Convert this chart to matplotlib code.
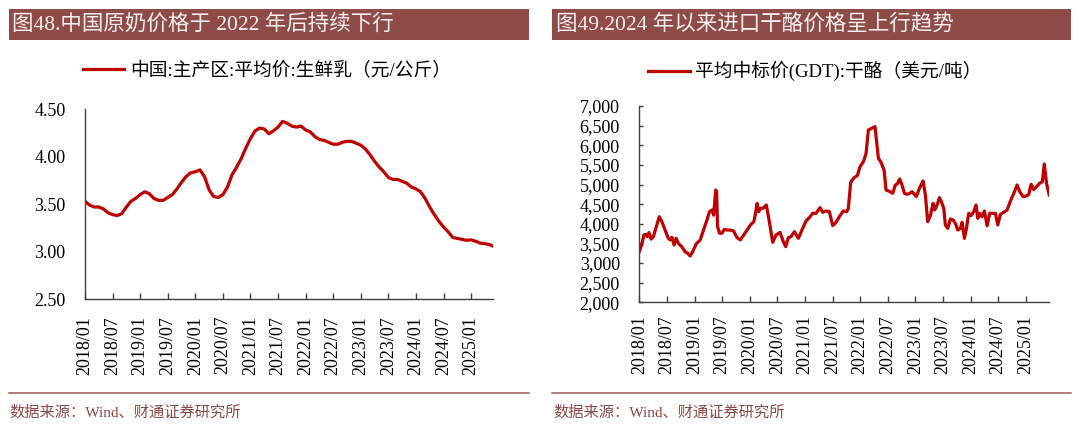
import matplotlib
matplotlib.use("Agg")
import matplotlib.pyplot as plt
from matplotlib.patches import Rectangle
from matplotlib.lines import Line2D
from matplotlib.ticker import FuncFormatter, FixedLocator

plt.rcParams['font.family'] = ['Liberation Serif', 'Noto Sans CJK SC']

# x 轴: 从 2018/01 起的月数
tick_months = [0, 6, 12, 18, 24, 30, 36, 42, 48, 54, 60, 66, 72, 78, 84]
tick_labels = ["2018/01", "2018/07", "2019/01", "2019/07", "2020/01", "2020/07",
               "2021/01", "2021/07", "2022/01", "2022/07", "2023/01", "2023/07",
               "2024/01", "2024/07", "2025/01"]

# 图48 生鲜乳平均价 (元/公斤), 月度读数
milk_month = list(range(89)) + [88.7]
milk_price = [3.53, 3.49, 3.47, 3.47, 3.45, 3.41, 3.39, 3.38, 3.40, 3.47, 3.53, 3.56,
              3.60, 3.63, 3.61, 3.56, 3.54, 3.54, 3.57, 3.60, 3.66, 3.73, 3.79, 3.83,
              3.84, 3.86, 3.79, 3.65, 3.58, 3.57, 3.60, 3.68, 3.81, 3.89, 3.98, 4.09,
              4.19, 4.27, 4.30, 4.29, 4.24, 4.27, 4.31, 4.37, 4.35, 4.32, 4.31, 4.32,
              4.28, 4.26, 4.21, 4.18, 4.17, 4.15, 4.13, 4.13, 4.15, 4.16, 4.16, 4.14,
              4.12, 4.08, 4.02, 3.95, 3.89, 3.84, 3.78, 3.76, 3.76, 3.74, 3.72, 3.68,
              3.66, 3.63, 3.56, 3.47, 3.39, 3.32, 3.26, 3.21, 3.15, 3.14, 3.13, 3.12,
              3.125, 3.11, 3.09, 3.085, 3.075, 3.06]

# 图49 GDT 干酪平均中标价 (美元/吨), 拍卖读数
gdt_month = [0.0, 0.5, 1.0, 1.45, 1.75, 2.1, 2.55, 3.05, 3.6, 4.35, 4.9, 5.6, 6.3, 6.7,
             7.1, 7.55, 8.0, 8.5, 9.25, 9.95, 10.5, 11.05, 11.6, 12.35, 13.25, 13.95,
             14.7, 15.25, 15.8, 16.15, 16.35, 16.6, 16.8, 17.0, 17.45, 17.95, 18.5,
             19.05, 19.8, 20.5, 21.25, 21.95, 22.7, 23.4, 24.15, 24.9, 25.25, 25.6,
             25.95, 26.3, 26.9, 27.6, 28.26, 28.99, 29.71, 30.58, 31.3, 31.81, 32.39,
             32.97, 33.7, 34.57, 35.51, 36.23, 36.96, 37.68, 38.41, 39.28, 39.86,
             40.58, 41.3, 42.03, 42.75, 43.62, 44.35, 45.07, 45.43, 45.94, 46.67,
             47.39, 47.97, 48.7, 49.28, 49.78, 50.51, 51.23, 51.96, 52.46, 53.19,
             53.62, 54.49, 55.07, 55.65, 56.16, 56.59, 57.1, 57.61, 58.19, 58.77,
             59.28, 59.78, 60.22, 60.72, 61.23, 61.67, 62.17, 62.68, 63.26, 63.84,
             64.2, 64.71, 65.22, 65.65, 66.16, 66.52, 67.03, 67.61, 68.19, 68.7,
             69.2, 69.78, 70.14, 70.65, 71.09, 71.59, 72.1, 72.68, 73.19, 73.55,
             73.99, 74.49, 75.0, 75.58, 76.16, 76.74, 77.39, 77.9, 78.48, 79.2,
             79.93, 80.65, 81.38, 82.1, 82.68, 83.41, 84.13, 84.64, 85.14, 85.72,
             86.45, 87.0, 87.6, 88.0, 88.5, 89.07]
gdt_price = [3290, 3460, 3715, 3730, 3670, 3775, 3610, 3670, 3885, 4180, 4055, 3840,
             3630, 3590, 3655, 3460, 3630, 3500, 3415, 3290, 3250, 3180, 3290, 3485,
             3590, 3840, 4095, 4310, 4350, 4220, 4520, 4860, 4820, 3930, 3760, 3760,
             3860, 3840, 3840, 3815, 3645, 3590, 3715, 3840, 3970, 4055, 4265, 4520,
             4310, 4395, 4395, 4480, 4055, 3528, 3714, 3782, 3545, 3417, 3646, 3672,
             3799, 3629, 3884, 4071, 4156, 4266, 4266, 4411, 4292, 4326, 4309, 3952,
             4037, 4207, 4326, 4309, 4394, 5056, 5175, 5226, 5455, 5582, 5794, 6389,
             6431, 6474, 5667, 5582, 5370, 4861, 4818, 4776, 4988, 5030, 5141, 4988,
             4776, 4750, 4776, 4818, 4750, 4691, 4861, 4988, 5090, 4733, 4054, 4207,
             4521, 4351, 4478, 4665, 4563, 4394, 3969, 3884, 4122, 4096, 4012, 3842,
             3884, 4037, 3629, 3884, 4266, 4207, 4309, 4478, 4139, 4266, 4181, 4326,
             3952, 4266, 4266, 4266, 3969, 4241, 4292, 4351, 4580, 4776, 4988, 4818,
             4691, 4711, 4750, 5005, 4870, 4960, 5031, 5073, 5523, 5031, 4733]

red = '#C00000'
bar_col = '#8E4B47'
W, H = 1080, 426

fig = plt.figure(figsize=(10.8, 4.26), dpi=100)


def fx(px):
    return px / W


def fy(py):
    return 1 - py / H


def style_axis(ax, ylab_pad, xlab_pad, ytick_len):
    for s in ['top', 'right']:
        ax.spines[s].set_visible(False)
    for s in ['left', 'bottom']:
        ax.spines[s].set_color('#404040')
        ax.spines[s].set_linewidth(1.0)
    ax.xaxis.set_major_locator(FixedLocator(tick_months))
    ax.set_xticklabels(tick_labels, rotation=90, fontsize=13)
    ax.tick_params(axis='x', direction='in', length=4, width=1, color='#404040', pad=xlab_pad)
    ax.tick_params(axis='y', direction='in', length=ytick_len, width=1, color='#404040',
                   pad=ylab_pad, labelsize=13)


# 左图
ax1 = fig.add_axes([fx(85), fy(299.3), fx(492.7 - 85), (299.3 - 109) / H])
ax1.plot(milk_month, milk_price, color=red, lw=2.3, solid_joinstyle='round')
ax1.set_xlim(0, 88.7)
ax1.set_ylim(2.5, 4.5)
ax1.set_yticks([2.5, 3.0, 3.5, 4.0, 4.5])
ax1.yaxis.set_major_formatter(FuncFormatter(lambda v, p: f"{v:.2f}"))
style_axis(ax1, 14, 12, 0)
ax1.legend(['中国:主产区:平均价:生鲜乳（元/公斤）'], loc='center',
           bbox_to_anchor=(fx(267), fy(71)), bbox_transform=fig.transFigure,
           frameon=False, fontsize=13.5, handlelength=2.2, handletextpad=0.3)

# 右图
ax2 = fig.add_axes([fx(639.3), fy(302.3), fx(1049.3 - 639.3), (302.3 - 106) / H])
ax2.plot(gdt_month, gdt_price, color=red, lw=2.3, solid_joinstyle='round')
ax2.set_xlim(0, 89.1)
ax2.set_ylim(2000, 7000)
ax2.set_yticks(range(2000, 7001, 500))
ax2.yaxis.set_major_formatter(FuncFormatter(lambda v, p: f"{int(v):,}"))
style_axis(ax2, 14, 9.5, 3)
ax2.legend(['平均中标价(GDT):干酪（美元/吨）'], loc='center',
           bbox_to_anchor=(fx(815), fy(71)), bbox_transform=fig.transFigure,
           frameon=False, fontsize=13.5, handlelength=2.2, handletextpad=0.3)

# 标题栏、底线与来源
titles = ['图48.中国原奶价格于 2022 年后持续下行', '图49.2024 年以来进口干酪价格呈上行趋势']
for x0, x1, t in [(8.6, 529, titles[0]), (552, 1071, titles[1])]:
    fig.add_artist(Rectangle((fx(x0), fy(39.8)), fx(x1 - x0), 30.5 / H,
                             transform=fig.transFigure, facecolor=bar_col, edgecolor='none'))
    fig.text(fx(x0 + 3.5), fy(24.6), t, color='#F7F0F0', fontsize=15.5, va='center', ha='left')
    fig.add_artist(Line2D([fx(x0), fx(x1)], [fy(392.7), fy(392.7)], transform=fig.transFigure,
                          color='#9B5B5B', lw=1.1))
    fig.text(fx(x0 + 1), fy(412.5), '数据来源：Wind、财通证券研究所', color='#8B4A47',
             fontsize=11, va='center', ha='left')

fig.savefig('out.png', dpi=100)
